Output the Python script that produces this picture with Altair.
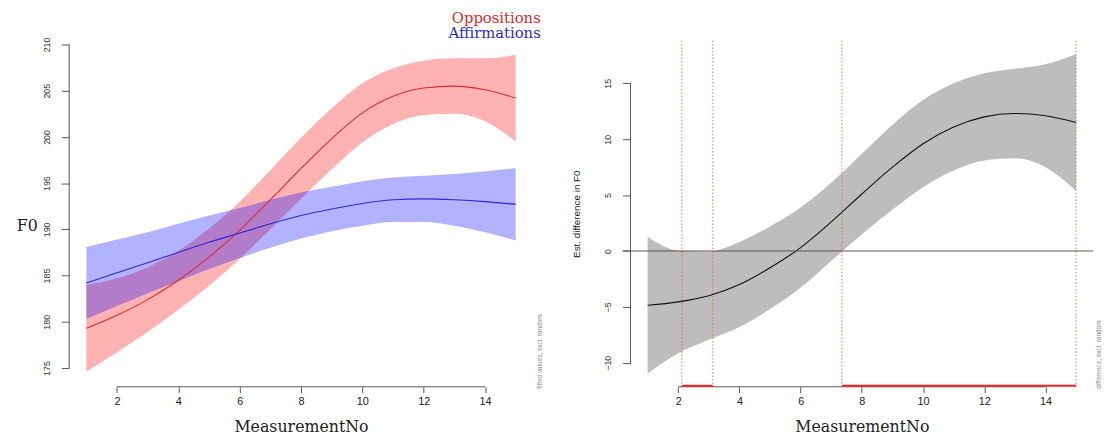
import altair as alt
import pandas as pd

# ---------------- data ----------------
measurement = list(range(1, 16))
opp_fit = [179.3, 180.7, 182.4, 184.5, 187.0, 189.9, 193.2, 196.6, 199.8, 202.6, 204.4, 205.3, 205.5, 205.1, 204.2]
opp_ci = [4.7, 4.0, 3.5, 3.2, 3.1, 3.1, 3.2, 3.3, 3.3, 3.2, 3.0, 2.95, 3.0, 3.4, 4.7]
aff_fit = [184.2, 185.3, 186.4, 187.5, 188.6, 189.6, 190.6, 191.5, 192.2, 192.8, 193.2, 193.3, 193.2, 193.0, 192.7]
aff_ci = [3.9, 3.6, 3.3, 3.1, 2.9, 2.7, 2.6, 2.5, 2.4, 2.4, 2.4, 2.5, 2.8, 3.3, 3.9]
diff_fit = [-4.85, -4.55, -4.0, -3.0, -1.5, 0.3, 2.6, 5.1, 7.5, 9.6, 11.1, 12.0, 12.3, 12.1, 11.5]
diff_ci = [6.1, 4.6, 3.95, 3.8, 3.7, 3.6, 3.5, 3.6, 3.8, 3.9, 3.9, 3.9, 4.0, 4.6, 6.1]
sig_start = [2.12, 7.35]
sig_end = [3.13, 15.0]
x_ticks = [2, 4, 6, 8, 10, 12, 14]
f0_ticks = [175, 180, 185, 190, 195, 200, 205, 210]
diff_ticks = [-10, -5, 0, 5, 10, 15]
series = ["Oppositions", "Affirmations"]
series_colors = ["#dd2a2a", "#2a2ad6"]
band_colors = ["#ff0000", "#0000ff"]
left_note = "fitted values, excl. random"
right_note = "difference, excl. random"

# ---------------- tables ----------------
opp = pd.DataFrame({"x": measurement, "fit": opp_fit,
                    "lo": [f - c for f, c in zip(opp_fit, opp_ci)],
                    "hi": [f + c for f, c in zip(opp_fit, opp_ci)],
                    "series": series[0]})
aff = pd.DataFrame({"x": measurement, "fit": aff_fit,
                    "lo": [f - c for f, c in zip(aff_fit, aff_ci)],
                    "hi": [f + c for f, c in zip(aff_fit, aff_ci)],
                    "series": series[1]})
dif = pd.DataFrame({"x": measurement, "fit": diff_fit,
                    "lo": [f - c for f, c in zip(diff_fit, diff_ci)],
                    "hi": [f + c for f, c in zip(diff_fit, diff_ci)]})
sig_bounds = pd.DataFrame({"x": sorted(sig_start + sig_end)})
sig_seg = pd.DataFrame({"x": sig_start, "e": sig_end})

W1, W2, H = 470, 469, 351
xs = alt.Scale(domain=[0.44, 15.56], nice=False, zero=False)
ys1 = alt.Scale(domain=[172.97, 210.43], nice=False, zero=False)
ys2 = alt.Scale(domain=[-12.15, 18.83], nice=False, zero=False)
cscale = alt.Scale(domain=series, range=series_colors)

SERIF = "DejaVu Serif"
SANS = "Liberation Sans"

x_axis = alt.Axis(values=x_ticks, domain=False, grid=False, tickSize=6, tickColor="#555",
                  labelFont=SANS, labelFontSize=11, labelColor="#222", labelPadding=3,
                  title="MeasurementNo", titleFont=SERIF, titleFontSize=16,
                  titleFontWeight="normal", titleColor="#222", titlePadding=12)


def y_axis(vals, title, tx, ty, angle, font, size):
    return alt.Axis(values=vals, domain=False, grid=False, tickSize=8, tickColor="#555",
                    labelAngle=270, labelAlign="center", labelBaseline="bottom",
                    labelPadding=10, labelFont=SANS, labelFontSize=9, labelColor="#333",
                    title=title, titleAngle=angle, titleX=tx, titleY=ty,
                    titleAlign="center", titleBaseline="middle", titleFont=font,
                    titleFontSize=size, titleFontWeight="normal", titleColor="#222")


yax1 = y_axis(f0_ticks, "F0", -43, 188, 0, SERIF, 16)
yax2 = y_axis(diff_ticks, "Est. difference in F0", -55, H / 2, 270, SANS, 10)


def X(field="x"):
    return alt.X(f"{field}:Q", scale=xs, axis=x_axis)


def band(df, color, ys, yax, opacity=0.3):
    return alt.Chart(df).mark_area(color=color, opacity=opacity, interpolate="monotone").encode(
        x=X(), y=alt.Y("lo:Q", scale=ys, axis=yax), y2="hi:Q")


def line(df, ys, yax, color):
    return alt.Chart(df).mark_line(strokeWidth=1.1, interpolate="monotone", color=color).encode(
        x=X(), y=alt.Y("fit:Q", scale=ys, axis=yax))


def axis_lines(yvals, ys, yax):
    xl = alt.Chart(pd.DataFrame({"x": [x_ticks[0]], "b": [x_ticks[-1]]})).mark_rule(
        color="#555", strokeWidth=1).encode(x=X(), x2="b:Q", y=alt.value(H))
    yl = alt.Chart(pd.DataFrame({"a": [yvals[0]], "b": [yvals[-1]]})).mark_rule(
        color="#555", strokeWidth=1).encode(
        y=alt.Y("a:Q", scale=ys, axis=yax), y2="b:Q", x=alt.value(0))
    return [xl, yl]


def note(txt, xpos):
    return alt.Chart(pd.DataFrame({"t": [txt]})).mark_text(
        angle=270, align="left", baseline="middle", font=SANS, fontSize=6.5,
        color="#888").encode(x=alt.value(xpos), y=alt.value(H + 2), text="t:N")


def legend_text(name, ypos):
    return alt.Chart(pd.DataFrame({"series": [name]})).mark_text(
        align="right", baseline="middle", font=SERIF, fontSize=15).encode(
        x=alt.value(478), y=alt.value(ypos), text="series:N",
        color=alt.Color("series:N", scale=cscale, legend=None))


# ---------------- left panel ----------------
left = alt.layer(
    band(opp, band_colors[0], ys1, yax1),
    band(aff, band_colors[1], ys1, yax1),
    line(opp, ys1, yax1, series_colors[0]),
    line(aff, ys1, yax1, series_colors[1]),
    *axis_lines(f0_ticks, ys1, yax1),
    note(left_note, W1 + 7),
    legend_text(series[0], -23),
    legend_text(series[1], -8),
).properties(width=W1, height=H)

# ---------------- right panel ----------------
zero_rule = alt.Chart(pd.DataFrame({"z": [0]})).mark_rule(color="#555", strokeWidth=1).encode(
    y=alt.Y("z:Q", scale=ys2, axis=yax2), x=alt.value(-8), x2=alt.value(W2))
vlines = alt.Chart(sig_bounds).mark_rule(color="#e07070", strokeWidth=1, strokeDash=[1.5, 2]).encode(
    x=X(), y=alt.value(0), y2=alt.value(H))
segs = alt.Chart(sig_seg).mark_rule(color="#ee2020", strokeWidth=2).encode(
    x=X(), x2="e:Q", y=alt.value(H - 1))

right = alt.layer(
    band(dif, "#bdbdbd", ys2, yax2, opacity=1),
    vlines,
    line(dif, ys2, yax2, "#111"),
    zero_rule,
    *axis_lines(diff_ticks, ys2, yax2),
    segs,
    note(right_note, W2 + 6),
).properties(width=W2, height=H)

chart = alt.hconcat(left, right, spacing=99, bounds="flush").properties(
    padding={"left": 8, "top": 0, "right": 5, "bottom": 5}, background="white"
).configure_view(strokeWidth=0)

chart.save("out.html", embed_options={"renderer": "svg", "actions": False})
